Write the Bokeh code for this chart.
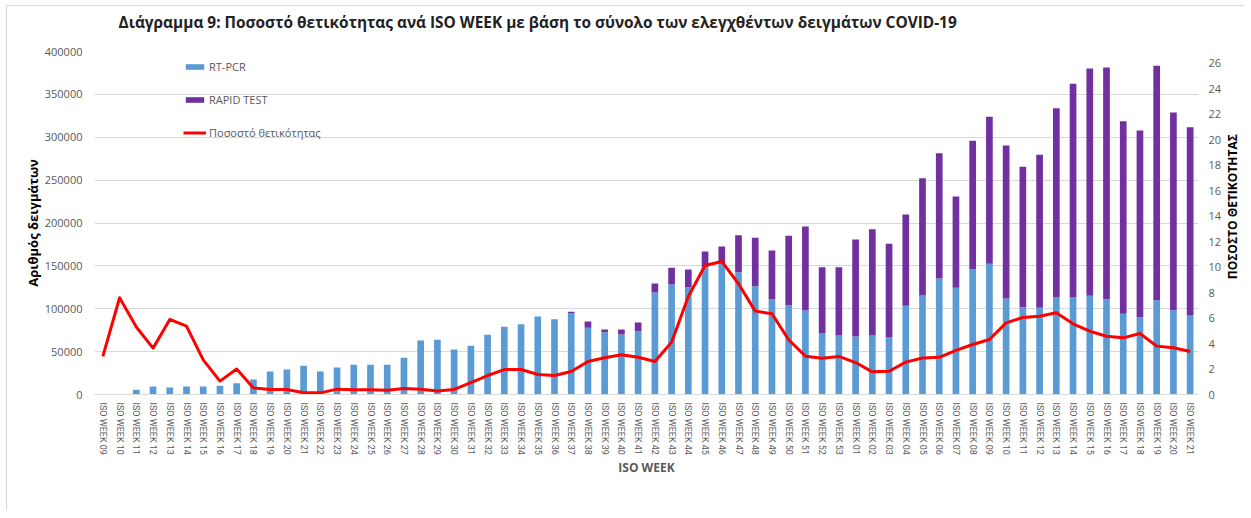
import math
from bokeh.plotting import figure
from bokeh.layouts import row, column
from bokeh.models import (ColumnDataSource, Range1d, LinearAxis, FixedTicker,
                          NumeralTickFormatter, Legend)
from bokeh.core.properties import value
from bokeh.embed import file_html
from bokeh.resources import INLINE

weeks = ["ISO WEEK %02d" % w for w in range(9, 54)] + ["ISO WEEK %02d" % w for w in range(1, 22)]

rtpcr = [0, 0, 5500, 9300, 8200, 9300, 9300, 10100, 13200, 17500,
         26800, 29200, 33400, 26800, 31500, 34600, 34600, 34600, 42800, 63000,
         63800, 52500, 56800, 69600, 78900, 82000, 91000, 87800, 95000, 77700,
         72700, 70000, 73800, 119000, 128300, 125200, 148500, 152400, 142700, 126300,
         111200, 104200, 98000, 71100, 68800, 67600, 68800, 66500, 103400, 115500,
         135300, 124400, 146100, 152400, 112000, 101800, 101100, 113100, 113100, 115100,
         111200, 94100, 90200, 110000, 98300, 92100]

rapid = [0, 0, 0, 0, 0, 0, 0, 0, 0, 0,
         0, 0, 0, 0, 0, 0, 0, 0, 0, 0,
         0, 0, 0, 0, 0, 0, 0, 0, 1500, 7400,
         3100, 5800, 10200, 10400, 19400, 20600, 18300, 20200, 43100, 56400,
         56700, 80800, 97900, 77400, 79700, 113200, 124000, 109200, 106500, 136800,
         146100, 106500, 149800, 171400, 178400, 163700, 178400, 220800, 249200, 265100,
         270100, 224600, 217700, 273300, 230600, 219600]

pct = [3.0, 7.6, 5.3, 3.64, 5.9, 5.37, 2.72, 1.05, 2.0, 0.52,
       0.39, 0.39, 0.13, 0.13, 0.42, 0.37, 0.37, 0.33, 0.47, 0.42,
       0.28, 0.40, 0.93, 1.49, 1.96, 1.96, 1.57, 1.49, 1.81, 2.59,
       2.88, 3.12, 2.93, 2.59, 4.1, 7.7, 10.13, 10.45, 8.7, 6.55,
       6.34, 4.3, 3.01, 2.85, 2.99, 2.51, 1.78, 1.83, 2.54, 2.87,
       2.92, 3.46, 3.93, 4.32, 5.63, 6.05, 6.15, 6.42, 5.55, 4.97,
       4.58, 4.45, 4.79, 3.8, 3.67, 3.38]

left_ticks = list(range(0, 400001, 50000))
right_ticks = list(range(0, 27, 2))

TITLE = "Διάγραμμα 9: Ποσοστό  θετικότητας ανά ISO WEEK με βάση το σύνολο των ελεγχθέντων δειγμάτων COVID-19"
RIGHT_LABEL = "ΠΟΣΟΣΤΟ ΘΕΤΙΚΟΤΗΤΑΣ"

xs = list(range(len(weeks)))
source = ColumnDataSource(dict(x=xs, rtpcr=rtpcr, rapid=rapid, pct=pct))

FONT = "Open Sans"
TICKFONT = "Roboto"
GREY = "#595959"

TITLE_H = 30
H = 474
B_LEFT, B_RIGHT, B_TOP, B_BOTTOM = 87, 26, 15, 116
FRAME_W, FRAME_H = 1104, 343
SIDE_W = 20
TOTAL_W = B_LEFT + FRAME_W + B_RIGHT + SIDE_W


def blank(fig):
    fig.outline_line_color = None
    fig.xgrid.grid_line_color = None
    fig.ygrid.grid_line_color = None
    fig.background_fill_color = "white"
    fig.border_fill_color = "white"


# title strip
tfig = figure(width=TOTAL_W, height=TITLE_H, output_backend="svg", toolbar_location=None,
              x_range=Range1d(0, TOTAL_W), y_range=Range1d(0, TITLE_H),
              x_axis_type=None, y_axis_type=None, min_border=0, title_location=None)
blank(tfig)
tfig.text(x=[B_LEFT + 24], y=[TITLE_H - 16], text=[TITLE], text_align="left",
          text_baseline="middle", text_font=value(FONT), text_font_size="15.4px",
          text_font_style="bold", text_color="#222222")

# main chart
p = figure(width=B_LEFT + FRAME_W + B_RIGHT, height=H, output_backend="svg", toolbar_location=None,
           x_range=Range1d(-0.5, len(weeks) - 0.5), y_range=Range1d(0, 400000),
           min_border_left=B_LEFT, min_border_right=B_RIGHT, min_border_top=B_TOP,
           min_border_bottom=B_BOTTOM, title_location=None)
p.outline_line_color = None
p.background_fill_color = "white"

p.extra_y_ranges = {"pct": Range1d(0, 26.94)}

renderers = p.vbar_stack(["rtpcr", "rapid"], x="x", width=0.4, source=source,
                         color=["#5B9BD5", "#7030A0"], line_color=None)
line_r = p.line("x", "pct", source=source, y_range_name="pct", line_color="#FF0000",
                line_width=3, line_join="round")

# x axis
xa = p.xaxis[0]
xa.ticker = FixedTicker(ticks=xs)
xa.major_label_overrides = {i: w for i, w in enumerate(weeks)}
xa.major_label_orientation = -math.pi / 2
xa.major_label_text_font = TICKFONT
xa.major_label_text_font_size = "9px"
xa.major_label_text_color = GREY
xa.major_tick_line_color = None
xa.major_tick_out = 0
xa.major_tick_in = 0
xa.minor_tick_line_color = None
xa.minor_tick_out = 0
xa.axis_line_color = "#d9d9d9"
xa.major_label_standoff = 8
xa.axis_label = "ISO WEEK"
xa.axis_label_text_font = FONT
xa.axis_label_text_font_size = "12px"
xa.axis_label_text_font_style = "bold"
xa.axis_label_text_color = GREY
xa.axis_label_standoff = 1

# left axis
ya = p.yaxis[0]
ya.ticker = FixedTicker(ticks=left_ticks)
ya.formatter = NumeralTickFormatter(format="0")
ya.major_label_text_font = FONT
ya.major_label_text_font_size = "11px"
ya.major_label_text_color = GREY
ya.major_tick_line_color = None
ya.major_tick_out = 0
ya.major_tick_in = 0
ya.minor_tick_line_color = None
ya.minor_tick_out = 0
ya.axis_line_color = None
ya.major_label_standoff = 12
ya.axis_label = "Αριθμός δειγμάτων"
ya.axis_label_text_font = FONT
ya.axis_label_text_font_size = "13px"
ya.axis_label_text_font_style = "bold"
ya.axis_label_text_color = "black"
ya.axis_label_standoff = 0

# right axis (tick labels only; its title is drawn in the side strip)
ra = LinearAxis(y_range_name="pct", ticker=FixedTicker(ticks=right_ticks))
ra.major_label_text_font = FONT
ra.major_label_text_font_size = "11px"
ra.major_label_text_color = GREY
ra.major_tick_line_color = None
ra.major_tick_out = 0
ra.major_tick_in = 0
ra.minor_tick_line_color = None
ra.minor_tick_out = 0
ra.axis_line_color = None
ra.major_label_standoff = 10
p.add_layout(ra, "right")

p.xgrid.grid_line_color = None
p.ygrid.grid_line_color = "#d9d9d9"
p.ygrid.ticker = FixedTicker(ticks=left_ticks)

legend = Legend(items=[("RT-PCR", [renderers[0]]), ("RAPID TEST", [renderers[1]]),
                       ("Ποσοστό θετικότητας", [line_r])],
                location=(89, 252))
legend.border_line_color = None
legend.background_fill_alpha = 0
legend.padding = 0
legend.margin = 0
legend.spacing = 13
legend.label_height = 20
legend.glyph_height = 7
legend.glyph_width = 23
legend.label_standoff = 3
legend.label_text_font = FONT
legend.label_text_font_size = "11px"
legend.label_text_color = GREY
p.add_layout(legend, "center")

# side strip holding the right axis title, reading bottom-to-top
side = figure(width=SIDE_W, height=H, output_backend="svg", toolbar_location=None,
              x_range=Range1d(0, SIDE_W), y_range=Range1d(0, H),
              x_axis_type=None, y_axis_type=None, min_border=0, title_location=None)
blank(side)
side.text(x=[8], y=[H - (B_TOP + FRAME_H / 2) - 28], text=[RIGHT_LABEL], angle=math.pi / 2,
          text_align="center", text_baseline="middle", text_font=value(FONT),
          text_font_size="12px", text_font_style="bold", text_color="black")

layout = column(tfig, row(p, side))
layout.styles = {"border-left": "1px solid #d9d9d9", "border-top": "1px solid #d9d9d9",
                 "margin-left": "6px", "margin-top": "5px"}

open("out.html", "w").write(file_html(layout, INLINE))
